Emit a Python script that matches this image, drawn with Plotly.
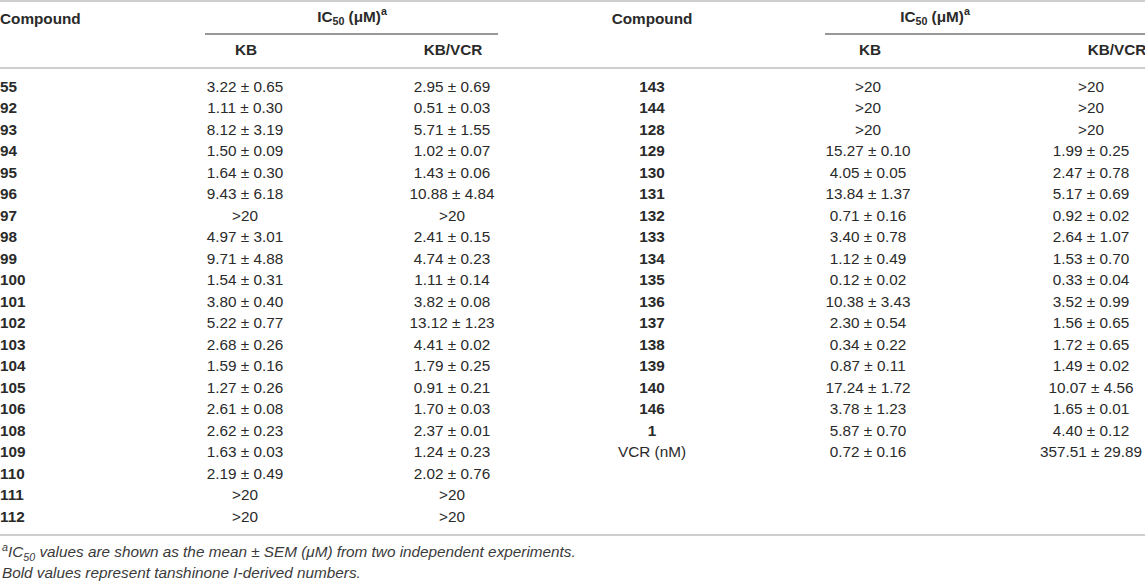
import plotly.graph_objects as go

# ---- table content ----
left_compounds = ["55", "92", "93", "94", "95", "96", "97", "98", "99", "100", "101",
                  "102", "103", "104", "105", "106", "108", "109", "110", "111", "112"]
left_kb = ["3.22 ± 0.65", "1.11 ± 0.30", "8.12 ± 3.19", "1.50 ± 0.09", "1.64 ± 0.30",
           "9.43 ± 6.18", ">20", "4.97 ± 3.01", "9.71 ± 4.88", "1.54 ± 0.31",
           "3.80 ± 0.40", "5.22 ± 0.77", "2.68 ± 0.26", "1.59 ± 0.16", "1.27 ± 0.26",
           "2.61 ± 0.08", "2.62 ± 0.23", "1.63 ± 0.03", "2.19 ± 0.49", ">20", ">20"]
left_kbvcr = ["2.95 ± 0.69", "0.51 ± 0.03", "5.71 ± 1.55", "1.02 ± 0.07", "1.43 ± 0.06",
              "10.88 ± 4.84", ">20", "2.41 ± 0.15", "4.74 ± 0.23", "1.11 ± 0.14",
              "3.82 ± 0.08", "13.12 ± 1.23", "4.41 ± 0.02", "1.79 ± 0.25", "0.91 ± 0.21",
              "1.70 ± 0.03", "2.37 ± 0.01", "1.24 ± 0.23", "2.02 ± 0.76", ">20", ">20"]

right_compounds = ["143", "144", "128", "129", "130", "131", "132", "133", "134", "135",
                   "136", "137", "138", "139", "140", "146", "1", "VCR (nM)"]
right_kb = [">20", ">20", ">20", "15.27 ± 0.10", "4.05 ± 0.05", "13.84 ± 1.37",
            "0.71 ± 0.16", "3.40 ± 0.78", "1.12 ± 0.49", "0.12 ± 0.02", "10.38 ± 3.43",
            "2.30 ± 0.54", "0.34 ± 0.22", "0.87 ± 0.11", "17.24 ± 1.72", "3.78 ± 1.23",
            "5.87 ± 0.70", "0.72 ± 0.16"]
right_kbvcr = [">20", ">20", ">20", "1.99 ± 0.25", "2.47 ± 0.78", "5.17 ± 0.69",
               "0.92 ± 0.02", "2.64 ± 1.07", "1.53 ± 0.70", "0.33 ± 0.04", "3.52 ± 0.99",
               "1.56 ± 0.65", "1.72 ± 0.65", "1.49 ± 0.02", "10.07 ± 4.56", "1.65 ± 0.01",
               "4.40 ± 0.12", "357.51 ± 29.89"]

not_bold = {"VCR (nM)"}

footnotes = [
    "<sup>a</sup>IC<sub>50</sub> values are shown as the mean ± SEM (μM) from two independent experiments.",
    "Bold values represent tanshinone I-derived numbers.",
]

# ---- geometry (axis units == page pixels) ----
W, H = 1145, 582
FONT = "Liberation Sans, Arial, Helvetica, sans-serif"
TXT = "#2a2a2a"
FS = 15.3
ROW0, PITCH = 88, 21.5


def rows(n):
    return [ROW0 + PITCH * i for i in range(n)]


def bold(labels):
    return [lab if lab in not_bold else f"<b>{lab}</b>" for lab in labels]


fig = go.Figure()


def add_text(xs, ys, labels, pos="middle center"):
    fig.add_trace(go.Scatter(
        x=xs, y=ys, mode="text", text=labels, textposition=pos,
        textfont=dict(family=FONT, size=FS, color=TXT),
        cliponaxis=False, hoverinfo="skip", showlegend=False,
    ))


def add_col(x, labels, pos="middle center"):
    add_text([x] * len(labels), rows(len(labels)), labels, pos)


add_col(0, bold(left_compounds), "middle right")
add_col(245, left_kb)
add_col(452, left_kbvcr)
add_col(652, bold(right_compounds))
add_col(868, right_kb)
add_col(1091, right_kbvcr)

# header texts
add_text([0], [20], ["<b>Compound</b>"], "middle right")
add_text([352, 935], [18, 18], ["<b>IC<sub>50</sub> (μM)<sup>a</sup></b>"] * 2)
add_text([246, 453, 870, 1117], [51] * 4,
         ["<b>KB</b>", "<b>KB/VCR</b>", "<b>KB</b>", "<b>KB/VCR</b>"])
add_text([652], [20], ["<b>Compound</b>"])

# footnotes
for i, note in enumerate(footnotes):
    fig.add_annotation(
        x=0, y=552 + 20 * i, xref="x", yref="y", text=f"<i>{note}</i>",
        showarrow=False, xanchor="left", yanchor="middle",
        font=dict(family=FONT, size=FS, color="#3a3a3a"),
    )

# rules
grey = dict(color="#cfcfcf", width=2)
dark = dict(color="#333333", width=1.2)
for y in (1, 68, 535):
    fig.add_shape(type="line", x0=0, x1=W, y0=y, y1=y, xref="x", yref="y", line=grey)
fig.add_shape(type="line", x0=205, x1=498, y0=34, y1=34, xref="x", yref="y", line=dark)
fig.add_shape(type="line", x0=825, x1=W, y0=34, y1=34, xref="x", yref="y", line=dark)

fig.update_xaxes(range=[0, W], visible=False, fixedrange=True)
fig.update_yaxes(range=[H, 0], visible=False, fixedrange=True)
fig.update_layout(
    width=W, height=H,
    margin=dict(l=0, r=0, t=0, b=0),
    paper_bgcolor="white", plot_bgcolor="white",
)

# drop the default page margin so the figure sits at the window's corner
fig.write_html(
    "out.html",
    config={"displayModeBar": False},
    post_script="document.body.style.margin='0';",
)
